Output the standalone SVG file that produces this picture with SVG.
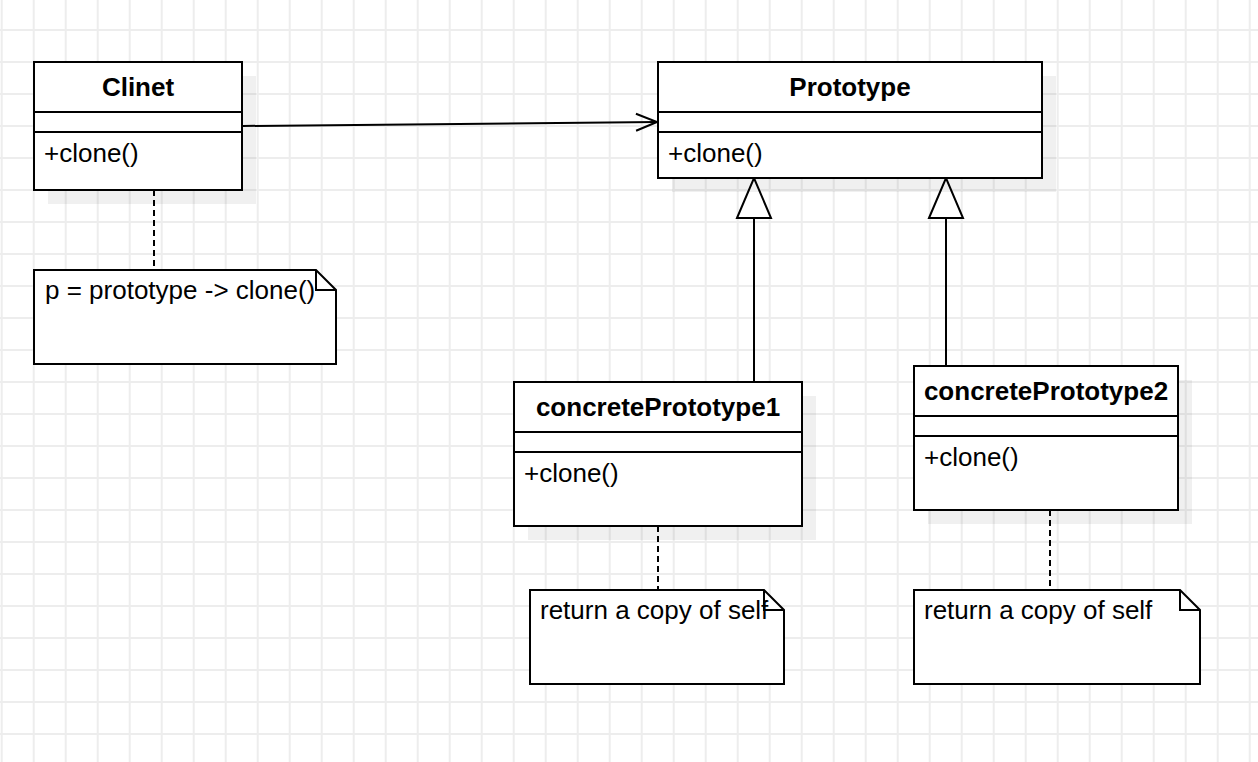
<svg xmlns="http://www.w3.org/2000/svg" width="1258" height="762" viewBox="0 0 1258 762">
<style>
.box{fill:#ffffff;stroke:#000000;stroke-width:2}
.shadow{fill:#000000;fill-opacity:0.06;stroke:none}
.sep{stroke:#000000;stroke-width:2;fill:none}
.title{font-family:"Liberation Sans",Arial,sans-serif;font-size:26px;font-weight:bold;fill:#000000;text-anchor:middle}
.txt{font-family:"Liberation Sans",Arial,sans-serif;font-size:26px;fill:#000000}
.conn{stroke:#000000;stroke-width:2;fill:none}
.dash{stroke:#000000;stroke-width:2;fill:none;stroke-dasharray:6 4}
</style>
<defs>
<pattern id="grid" patternUnits="userSpaceOnUse" x="0.7" y="29" width="32" height="32">
<rect x="0" y="0" width="32" height="32" fill="#ffffff"/>
<rect x="0" y="0" width="2" height="32" fill="#ededed"/>
<rect x="0" y="0" width="32" height="2" fill="#ededed"/>
</pattern>
<marker id="open" markerUnits="userSpaceOnUse" markerWidth="24" markerHeight="20" refX="21" refY="8.5" orient="auto" overflow="visible">
<path d="M0,0 L21,8.5 L0,17" fill="none" stroke="#000000" stroke-width="2"/>
</marker>
<marker id="gen" markerUnits="userSpaceOnUse" markerWidth="44" markerHeight="38" refX="40" refY="17" orient="auto" overflow="visible">
<path d="M0,0 L40,17 L0,34 Z" fill="#ffffff" stroke="#000000" stroke-width="2"/>
</marker>
</defs>
<rect x="0" y="0" width="1258" height="762" fill="url(#grid)"/>

<g id="connectors">
<line class="conn" x1="243" y1="126" x2="657" y2="122" marker-end="url(#open)"/>
<line class="conn" x1="754" y1="382" x2="754" y2="178" marker-end="url(#gen)"/>
<line class="conn" x1="946" y1="366" x2="946" y2="178" marker-end="url(#gen)"/>
<line class="dash" x1="154" y1="190" x2="154" y2="270"/>
<line class="dash" x1="658" y1="526" x2="658" y2="590"/>
<line class="dash" x1="1050" y1="510" x2="1050" y2="590"/>
</g>

<g id="clinet">
<rect class="shadow" x="48" y="76" width="208" height="128"/>
<rect class="box" x="34" y="62" width="208" height="128"/>
<line class="sep" x1="34" y1="112" x2="242" y2="112"/>
<line class="sep" x1="34" y1="132" x2="242" y2="132"/>
<text class="title" x="138" y="96">Clinet</text>
<text class="txt" x="44" y="162">+clone()</text>
</g>

<g id="prototype">
<rect class="shadow" x="672" y="76" width="384" height="116"/>
<rect class="box" x="658" y="62" width="384" height="116"/>
<line class="sep" x1="658" y1="112" x2="1042" y2="112"/>
<line class="sep" x1="658" y1="132" x2="1042" y2="132"/>
<text class="title" x="850" y="96">Prototype</text>
<text class="txt" x="668" y="162">+clone()</text>
</g>

<g id="concretePrototype1">
<rect class="shadow" x="528" y="396" width="288" height="144"/>
<rect class="box" x="514" y="382" width="288" height="144"/>
<line class="sep" x1="514" y1="432" x2="802" y2="432"/>
<line class="sep" x1="514" y1="452" x2="802" y2="452"/>
<text class="title" x="658" y="416">concretePrototype1</text>
<text class="txt" x="524" y="482">+clone()</text>
</g>

<g id="concretePrototype2">
<rect class="shadow" x="928" y="380" width="264" height="144"/>
<rect class="box" x="914" y="366" width="264" height="144"/>
<line class="sep" x1="914" y1="416" x2="1178" y2="416"/>
<line class="sep" x1="914" y1="436" x2="1178" y2="436"/>
<text class="title" x="1046" y="400">concretePrototype2</text>
<text class="txt" x="924" y="466">+clone()</text>
</g>

<g id="note-client">
<path class="box" d="M34,270 L316,270 L336,290 L336,364 L34,364 Z"/>
<path class="sep" d="M316,270 L316,290 L336,290"/>
<text class="txt" x="45" y="299">p = prototype -&gt; clone()</text>
</g>

<g id="note-cp1">
<path class="box" d="M530,590 L764,590 L784,610 L784,684 L530,684 Z"/>
<path class="sep" d="M764,590 L764,610 L784,610"/>
<text class="txt" x="540" y="619">return a copy of self</text>
</g>

<g id="note-cp2">
<path class="box" d="M914,590 L1180,590 L1200,610 L1200,684 L914,684 Z"/>
<path class="sep" d="M1180,590 L1180,610 L1200,610"/>
<text class="txt" x="924" y="619">return a copy of self</text>
</g>
</svg>
